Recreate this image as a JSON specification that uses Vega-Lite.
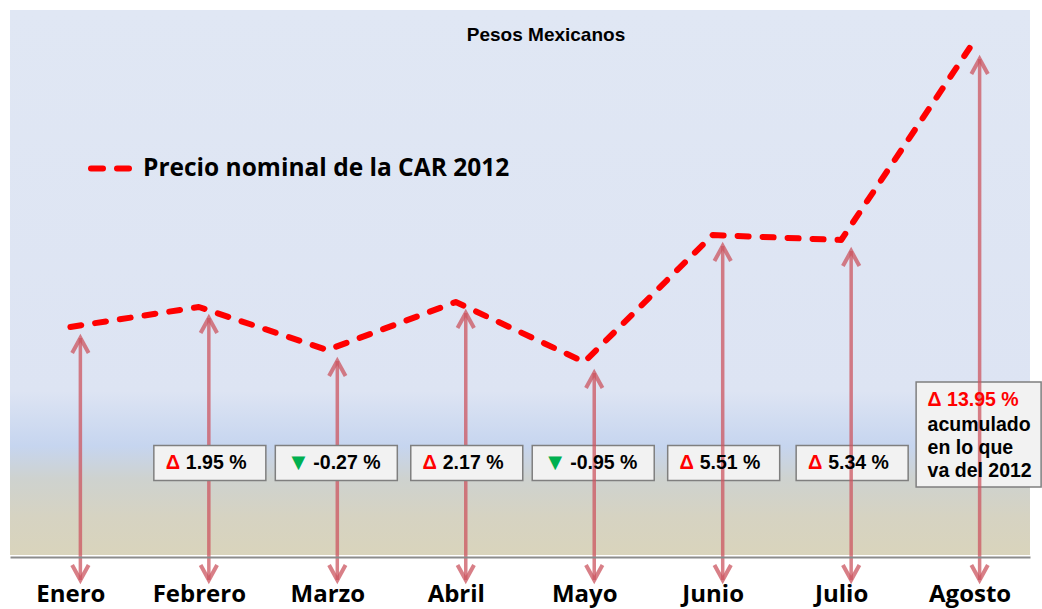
{
  "$schema": "https://vega.github.io/schema/vega-lite/v6.json",
  "autosize": "none",
  "width": 1020,
  "height": 545,
  "padding": {"left": 10, "top": 10, "right": 12, "bottom": 54},
  "background": "#ffffff",
  "config": {
    "view": {
      "stroke": null,
      "fill": {
        "gradient": "linear", "x1": 0, "y1": 0, "x2": 0, "y2": 1,
        "stops": [
          {"offset": 0, "color": "#e0e7f4"},
          {"offset": 0.7, "color": "#dde4f3"},
          {"offset": 0.8, "color": "#c6d5ef"},
          {"offset": 0.86, "color": "#ced2cf"},
          {"offset": 0.93, "color": "#d6d3c2"},
          {"offset": 1, "color": "#d9d4bc"}
        ]
      }
    }
  },
  "title": {
    "text": "Pesos Mexicanos",
    "font": "Liberation Sans",
    "fontSize": 19,
    "fontWeight": "bold",
    "color": "#000000",
    "anchor": "middle",
    "frame": "group",
    "baseline": "middle",
    "offset": -44,
    "dx": 26
  },
  "datasets": {
    "precio": [
      {"mes": "Enero", "valor": 100.0, "serie": "Precio nominal de la CAR 2012"},
      {"mes": "Febrero", "valor": 101.0, "serie": "Precio nominal de la CAR 2012"},
      {"mes": "Marzo", "valor": 98.85, "serie": "Precio nominal de la CAR 2012"},
      {"mes": "Abril", "valor": 101.25, "serie": "Precio nominal de la CAR 2012"},
      {"mes": "Mayo", "valor": 98.25, "serie": "Precio nominal de la CAR 2012"},
      {"mes": "Junio", "valor": 104.6, "serie": "Precio nominal de la CAR 2012"},
      {"mes": "Julio", "valor": 104.35, "serie": "Precio nominal de la CAR 2012"},
      {"mes": "Agosto", "valor": 113.95, "serie": "Precio nominal de la CAR 2012"}
    ],
    "cambios": [
      {"mes": "Febrero", "signo": "Δ", "texto": "1.95 %", "tipo": "sube", "cubre": true},
      {"mes": "Marzo", "signo": "▼", "texto": "-0.27 %", "tipo": "baja", "cubre": true},
      {"mes": "Abril", "signo": "Δ", "texto": "2.17 %", "tipo": "sube", "cubre": true},
      {"mes": "Mayo", "signo": "▼", "texto": "-0.95 %", "tipo": "baja", "cubre": false},
      {"mes": "Junio", "signo": "Δ", "texto": "5.51 %", "tipo": "sube", "cubre": false},
      {"mes": "Julio", "signo": "Δ", "texto": "5.34 %", "tipo": "sube", "cubre": false}
    ],
    "acumulado": [
      {"mes": "Agosto", "resumen": "Δ 13.95 %", "nota": ["acumulado", "en lo que", "va del 2012"]}
    ]
  },
  "encoding": {
    "x": {
      "field": "mes",
      "type": "ordinal",
      "sort": ["Enero", "Febrero", "Marzo", "Abril", "Mayo", "Junio", "Julio", "Agosto"],
      "scale": {"type": "point", "padding": 0.47},
      "axis": {
        "title": null,
        "ticks": false,
        "grid": false,
        "domain": true,
        "domainColor": "#8c8c8c",
        "domainWidth": 2,
        "offset": 2,
        "labelAngle": 0,
        "labelPadding": 25,
        "labelFont": "Open Sans",
        "labelFontWeight": "bold",
        "labelFontSize": 24,
        "labelColor": "#000000"
      }
    }
  },
  "layer": [
    {
      "data": {"name": "cambios"},
      "transform": [{"filter": "!datum.cubre && datum.tipo == 'sube'"}],
      "mark": {"type": "rect", "width": 112, "xOffset": 11, "fill": "#f2f2f2", "stroke": "#7f7f7f", "strokeWidth": 1.5},
      "encoding": {
        "y": {"datum": 92.325, "type": "quantitative", "scale": {"domain": [88.6, 115.85], "nice": false, "zero": false}, "axis": null},
        "y2": {"datum": 94.075}
      }
    },
    {
      "data": {"name": "cambios"},
      "transform": [{"filter": "!datum.cubre && datum.tipo == 'baja'"}],
      "mark": {"type": "rect", "width": 122, "xOffset": 9, "fill": "#f2f2f2", "stroke": "#7f7f7f", "strokeWidth": 1.5},
      "encoding": {
        "y": {"datum": 92.325, "type": "quantitative"},
        "y2": {"datum": 94.075}
      }
    },
    {
      "data": {"name": "acumulado"},
      "mark": {"type": "rect", "width": 125, "xOffset": 9, "fill": "#f2f2f2", "stroke": "#7f7f7f", "strokeWidth": 1.5},
      "encoding": {
        "y": {"datum": 92.0, "type": "quantitative"},
        "y2": {"datum": 97.25}
      }
    },
    {
      "data": {"name": "precio"},
      "mark": {"type": "rule", "xOffset": 10, "yOffset": 11, "stroke": "#cc5560", "opacity": 0.75, "strokeWidth": 3.5},
      "encoding": {
        "y": {"field": "valor", "type": "quantitative"},
        "y2": {"datum": 87.35}
      }
    },
    {
      "data": {"name": "precio"},
      "mark": {"type": "point", "shape": "M-0.55,1L0,0L0.55,1", "size": 900, "filled": false, "xOffset": 10, "yOffset": 11, "stroke": "#cc5560", "opacity": 0.75, "strokeWidth": 4},
      "encoding": {
        "y": {"field": "valor", "type": "quantitative"}
      }
    },
    {
      "data": {"name": "precio"},
      "mark": {"type": "point", "shape": "M-0.55,-1L0,0L0.55,-1", "size": 900, "filled": false, "xOffset": 10, "stroke": "#cc5560", "opacity": 0.75, "strokeWidth": 4},
      "encoding": {
        "y": {"datum": 87.35, "type": "quantitative"}
      }
    },
    {
      "data": {"name": "cambios"},
      "transform": [{"filter": "datum.cubre && datum.tipo == 'sube'"}],
      "mark": {"type": "rect", "width": 112, "xOffset": 11, "fill": "#f2f2f2", "stroke": "#7f7f7f", "strokeWidth": 1.5},
      "encoding": {
        "y": {"datum": 92.325, "type": "quantitative"},
        "y2": {"datum": 94.075}
      }
    },
    {
      "data": {"name": "cambios"},
      "transform": [{"filter": "datum.cubre && datum.tipo == 'baja'"}],
      "mark": {"type": "rect", "width": 122, "xOffset": 9, "fill": "#f2f2f2", "stroke": "#7f7f7f", "strokeWidth": 1.5},
      "encoding": {
        "y": {"datum": 92.325, "type": "quantitative"},
        "y2": {"datum": 94.075}
      }
    },
    {
      "data": {"name": "precio"},
      "mark": {"type": "line", "strokeWidth": 6, "strokeDash": [11, 14], "strokeCap": "round", "strokeJoin": "round"},
      "encoding": {
        "y": {"field": "valor", "type": "quantitative"},
        "color": {
          "field": "serie",
          "type": "nominal",
          "scale": {"range": ["#ff0000"]},
          "legend": {
            "title": null,
            "orient": "none",
            "legendX": 78,
            "legendY": 134,
            "padding": 0,
            "symbolType": "stroke",
            "symbolSize": 1849,
            "symbolStrokeWidth": 6,
            "symbolDash": [12, 14],
            "symbolStrokeColor": "#ff0000",
            "labelFont": "Open Sans",
            "labelFontWeight": "bold",
            "labelFontSize": 24.5,
            "labelColor": "#000000",
            "labelOffset": 6,
            "labelLimit": 0,
            "encode": {"symbols": {"update": {"strokeCap": {"value": "round"}}}}
          }
        }
      }
    },
    {
      "data": {"name": "cambios"},
      "transform": [{"filter": "datum.tipo == 'sube'"}],
      "mark": {"type": "text", "dx": -26, "align": "center", "baseline": "middle", "font": "Liberation Sans", "fontWeight": "bold", "fontSize": 20, "fill": "#ff0000"},
      "encoding": {
        "y": {"datum": 93.2, "type": "quantitative"},
        "text": {"field": "signo"}
      }
    },
    {
      "data": {"name": "cambios"},
      "transform": [{"filter": "datum.tipo == 'baja'"}],
      "mark": {"type": "text", "dx": -29, "align": "center", "baseline": "middle", "font": "DejaVu Sans", "fontWeight": "bold", "fontSize": 18, "fill": "#00b050"},
      "encoding": {
        "y": {"datum": 93.2, "type": "quantitative"},
        "text": {"field": "signo"}
      }
    },
    {
      "data": {"name": "cambios"},
      "transform": [{"filter": "datum.tipo == 'sube'"}],
      "mark": {"type": "text", "dx": -13, "align": "left", "baseline": "middle", "font": "Liberation Sans", "fontWeight": "bold", "fontSize": 19.5, "fill": "#000000"},
      "encoding": {
        "y": {"datum": 93.2, "type": "quantitative"},
        "text": {"field": "texto"}
      }
    },
    {
      "data": {"name": "cambios"},
      "transform": [{"filter": "datum.tipo == 'baja'"}],
      "mark": {"type": "text", "dx": -14, "align": "left", "baseline": "middle", "font": "Liberation Sans", "fontWeight": "bold", "fontSize": 19.5, "fill": "#000000"},
      "encoding": {
        "y": {"datum": 93.2, "type": "quantitative"},
        "text": {"field": "texto"}
      }
    },
    {
      "data": {"name": "acumulado"},
      "mark": {"type": "text", "dx": -42, "align": "left", "baseline": "middle", "font": "Liberation Sans", "fontWeight": "bold", "fontSize": 19.5, "fill": "#ff0000"},
      "encoding": {
        "y": {"datum": 96.35, "type": "quantitative"},
        "text": {"field": "resumen"}
      }
    },
    {
      "data": {"name": "acumulado"},
      "mark": {"type": "text", "dx": -42, "align": "left", "baseline": "middle", "lineHeight": 23, "font": "Liberation Sans", "fontWeight": "bold", "fontSize": 19.5, "fill": "#000000"},
      "encoding": {
        "y": {"datum": 95.1, "type": "quantitative"},
        "text": {"field": "nota"}
      }
    }
  ]
}
